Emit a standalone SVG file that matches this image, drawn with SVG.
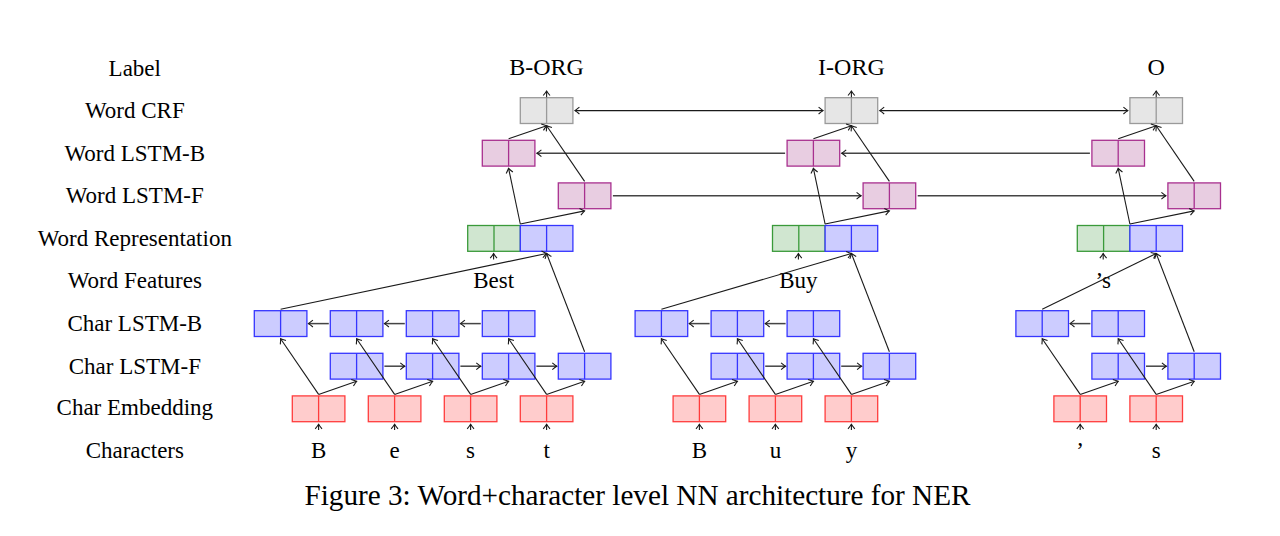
<svg xmlns="http://www.w3.org/2000/svg" xmlns:xlink="http://www.w3.org/1999/xlink" width="1280" height="536" viewBox="0 0 1280 536">
<style>
  text { font-family: "Liberation Serif", "Times New Roman", serif; fill: #000; }
  .lbl { font-size: 23px; text-anchor: middle; }
  .tag { font-size: 24px; text-anchor: middle; }
  .cap { font-size: 29.2px; text-anchor: middle; }
  .box { stroke-width: 1.3; }
  .crf { fill: #e6e6e6; stroke: #9a9a9a; }
  .wl { fill: #e8cde1; stroke: #a8308f; }
  .grn { fill: #d0e6d0; stroke: #3a9a3a; }
  .blu { fill: #ccccff; stroke: #3535ff; }
  .red { fill: #ffcccc; stroke: #ff3c3c; }
  .c { fill: none; stroke: #1a1a1a; stroke-width: 1.1; marker-end: url(#ah); }
  .h { fill: none; stroke: #444; stroke-width: 1.5; marker-end: url(#ah); }
  .hc { fill: none; stroke: #1a1a1a; stroke-width: 1.1; marker-start: url(#ah); marker-end: url(#ah); }
</style>
<defs>
  <marker id="ah" markerUnits="userSpaceOnUse" viewBox="-6 -5 8 10" markerWidth="8" markerHeight="10" refX="0" refY="0" orient="auto-start-reverse">
    <path d="M-4.5,-3.4 Q-1.6,-1 0,0 Q-1.6,1 -4.5,3.4" fill="none" stroke="#1a1a1a" stroke-width="1.1"/>
  </marker>
  <g id="b2">
    <rect x="0" y="0" width="52.6" height="25.8"/>
    <line x1="26.3" y1="0" x2="26.3" y2="25.8"/>
  </g>
</defs>

<g id="row-labels">
  <text class="lbl" x="134.8" y="75.5">Label</text>
  <text class="lbl" x="134.8" y="118.2">Word CRF</text>
  <text class="lbl" x="134.8" y="160.8">Word LSTM-B</text>
  <text class="lbl" x="134.8" y="203.4">Word LSTM-F</text>
  <text class="lbl" x="134.8" y="245.8">Word Representation</text>
  <text class="lbl" x="134.8" y="288.4">Word Features</text>
  <text class="lbl" x="134.8" y="331">Char LSTM-B</text>
  <text class="lbl" x="134.8" y="373.5">Char LSTM-F</text>
  <text class="lbl" x="134.8" y="415">Char Embedding</text>
  <text class="lbl" x="134.8" y="457.5">Characters</text>
</g>

<g id="tags">
  <text class="tag" x="546.6" y="75">B-ORG</text>
  <text class="tag" x="851.4" y="75">I-ORG</text>
  <text class="tag" x="1156.2" y="75">O</text>
</g>

<g id="words">
  <text class="lbl" x="493.6" y="287.5">Best</text>
  <text class="lbl" x="798.4" y="287.5">Buy</text>
  <text class="lbl" x="1103.2" y="287.5">’s</text>
</g>

<g id="chars">
  <text class="lbl" x="318.6" y="457.5">B</text>
  <text class="lbl" x="394.6" y="457.5">e</text>
  <text class="lbl" x="470.6" y="457.5">s</text>
  <text class="lbl" x="546.6" y="457.5">t</text>
  <text class="lbl" x="699.4" y="457.5">B</text>
  <text class="lbl" x="775.4" y="457.5">u</text>
  <text class="lbl" x="851.4" y="457.5">y</text>
  <text class="lbl" x="1080.2" y="457.5">’</text>
  <text class="lbl" x="1156.2" y="457.5">s</text>
</g>

<!-- Section 1: Best -->
<g id="crf1" class="box crf"><use xlink:href="#b2" x="520.3" y="97.7"/></g>
<g id="wlb1" class="box wl"><use xlink:href="#b2" x="482.3" y="140.3"/></g>
<g id="wlf1" class="box wl"><use xlink:href="#b2" x="558.3" y="182.9"/></g>
<g id="wr1"><g class="box grn"><use xlink:href="#b2" x="467.7" y="225.5"/></g><g class="box blu"><use xlink:href="#b2" x="520.3" y="225.5"/></g></g>
<g id="clb1a" class="box blu"><use xlink:href="#b2" x="254.3" y="310.7"/></g>
<g id="clb1b" class="box blu"><use xlink:href="#b2" x="330.3" y="310.7"/></g>
<g id="clb1c" class="box blu"><use xlink:href="#b2" x="406.3" y="310.7"/></g>
<g id="clb1d" class="box blu"><use xlink:href="#b2" x="482.3" y="310.7"/></g>
<g id="clf1a" class="box blu"><use xlink:href="#b2" x="330.3" y="353.3"/></g>
<g id="clf1b" class="box blu"><use xlink:href="#b2" x="406.3" y="353.3"/></g>
<g id="clf1c" class="box blu"><use xlink:href="#b2" x="482.3" y="353.3"/></g>
<g id="clf1d" class="box blu"><use xlink:href="#b2" x="558.3" y="353.3"/></g>
<g id="ce1a" class="box red"><use xlink:href="#b2" x="292.3" y="395.9"/></g>
<g id="ce1b" class="box red"><use xlink:href="#b2" x="368.3" y="395.9"/></g>
<g id="ce1c" class="box red"><use xlink:href="#b2" x="444.3" y="395.9"/></g>
<g id="ce1d" class="box red"><use xlink:href="#b2" x="520.3" y="395.9"/></g>

<!-- Section 2: Buy -->
<g id="crf2" class="box crf"><use xlink:href="#b2" x="825.1" y="97.7"/></g>
<g id="wlb2" class="box wl"><use xlink:href="#b2" x="787.1" y="140.3"/></g>
<g id="wlf2" class="box wl"><use xlink:href="#b2" x="863.1" y="182.9"/></g>
<g id="wr2"><g class="box grn"><use xlink:href="#b2" x="772.5" y="225.5"/></g><g class="box blu"><use xlink:href="#b2" x="825.1" y="225.5"/></g></g>
<g id="clb2a" class="box blu"><use xlink:href="#b2" x="635.1" y="310.7"/></g>
<g id="clb2b" class="box blu"><use xlink:href="#b2" x="711.1" y="310.7"/></g>
<g id="clb2c" class="box blu"><use xlink:href="#b2" x="787.1" y="310.7"/></g>
<g id="clf2a" class="box blu"><use xlink:href="#b2" x="711.1" y="353.3"/></g>
<g id="clf2b" class="box blu"><use xlink:href="#b2" x="787.1" y="353.3"/></g>
<g id="clf2c" class="box blu"><use xlink:href="#b2" x="863.1" y="353.3"/></g>
<g id="ce2a" class="box red"><use xlink:href="#b2" x="673.1" y="395.9"/></g>
<g id="ce2b" class="box red"><use xlink:href="#b2" x="749.1" y="395.9"/></g>
<g id="ce2c" class="box red"><use xlink:href="#b2" x="825.1" y="395.9"/></g>

<!-- Section 3: 's -->
<g id="crf3" class="box crf"><use xlink:href="#b2" x="1129.9" y="97.7"/></g>
<g id="wlb3" class="box wl"><use xlink:href="#b2" x="1091.9" y="140.3"/></g>
<g id="wlf3" class="box wl"><use xlink:href="#b2" x="1167.9" y="182.9"/></g>
<g id="wr3"><g class="box grn"><use xlink:href="#b2" x="1077.3" y="225.5"/></g><g class="box blu"><use xlink:href="#b2" x="1129.9" y="225.5"/></g></g>
<g id="clb3a" class="box blu"><use xlink:href="#b2" x="1015.9" y="310.7"/></g>
<g id="clb3b" class="box blu"><use xlink:href="#b2" x="1091.9" y="310.7"/></g>
<g id="clf3a" class="box blu"><use xlink:href="#b2" x="1091.9" y="353.3"/></g>
<g id="clf3b" class="box blu"><use xlink:href="#b2" x="1167.9" y="353.3"/></g>
<g id="ce3a" class="box red"><use xlink:href="#b2" x="1053.9" y="395.9"/></g>
<g id="ce3b" class="box red"><use xlink:href="#b2" x="1129.9" y="395.9"/></g>

<g id="connectors">
  <!-- CRF chain -->
  <path class="hc" d="M574.9,110.6 L823.1,110.6"/>
  <path class="hc" d="M879.7,110.6 L1127.9,110.6"/>
  <!-- word LSTM-B chain -->
  <path class="h" d="M785.1,153.2 L536.9,153.2"/>
  <path class="h" d="M1089.9,153.2 L841.7,153.2"/>
  <!-- word LSTM-F chain -->
  <path class="h" d="M612.9,195.8 L861.1,195.8"/>
  <path class="h" d="M917.7,195.8 L1165.9,195.8"/>

  <!-- label arrows -->
  <path class="c" d="M546.6,97.2 L546.6,91"/>
  <path class="c" d="M851.4,97.2 L851.4,91"/>
  <path class="c" d="M1156.2,97.2 L1156.2,91"/>

  <!-- word level -->
  <path class="c" d="M520.3,224 L508.6,168.3"/>
  <path class="c" d="M520.3,224 L584.6,210.9"/>
  <path class="c" d="M508.6,138.8 L546.6,125.7"/>
  <path class="c" d="M584.6,181.4 L546.6,125.7"/>
  <path class="c" d="M825.1,224 L813.4,168.3"/>
  <path class="c" d="M825.1,224 L889.4,210.9"/>
  <path class="c" d="M813.4,138.8 L851.4,125.7"/>
  <path class="c" d="M889.4,181.4 L851.4,125.7"/>
  <path class="c" d="M1129.9,224 L1118.2,168.3"/>
  <path class="c" d="M1129.9,224 L1194.2,210.9"/>
  <path class="c" d="M1118.2,138.8 L1156.2,125.7"/>
  <path class="c" d="M1194.2,181.4 L1156.2,125.7"/>

  <!-- word features -->
  <path class="c" d="M493.6,259.5 L493.6,253.6"/>
  <path class="c" d="M798.4,259.5 L798.4,253.6"/>
  <path class="c" d="M1103.2,259.5 L1103.2,253.6"/>

  <!-- char LSTM to word rep -->
  <path class="c" d="M280.6,309.2 L546.6,253.5"/>
  <path class="c" d="M584.6,351.8 L546.6,253.5"/>
  <path class="c" d="M661.4,309.2 L851.4,253.5"/>
  <path class="c" d="M889.4,351.8 L851.4,253.5"/>
  <path class="c" d="M1042.2,309.2 L1156.2,253.5"/>
  <path class="c" d="M1194.2,351.8 L1156.2,253.5"/>

  <!-- char LSTM-B chain -->
  <path class="h" d="M328.8,323.6 L308.4,323.6"/>
  <path class="h" d="M404.8,323.6 L384.4,323.6"/>
  <path class="h" d="M480.8,323.6 L460.4,323.6"/>
  <path class="h" d="M709.6,323.6 L689.2,323.6"/>
  <path class="h" d="M785.6,323.6 L765.2,323.6"/>
  <path class="h" d="M1090.4,323.6 L1070,323.6"/>
  <!-- char LSTM-F chain -->
  <path class="h" d="M384.4,366.2 L404.8,366.2"/>
  <path class="h" d="M460.4,366.2 L480.8,366.2"/>
  <path class="h" d="M536.4,366.2 L556.8,366.2"/>
  <path class="h" d="M765.2,366.2 L785.6,366.2"/>
  <path class="h" d="M841.2,366.2 L861.6,366.2"/>
  <path class="h" d="M1146,366.2 L1166.4,366.2"/>

  <!-- char embedding to char LSTMs -->
  <path class="c" d="M318.6,394.4 L280.6,338.7"/>
  <path class="c" d="M318.6,394.4 L356.6,381.3"/>
  <path class="c" d="M394.6,394.4 L356.6,338.7"/>
  <path class="c" d="M394.6,394.4 L432.6,381.3"/>
  <path class="c" d="M470.6,394.4 L432.6,338.7"/>
  <path class="c" d="M470.6,394.4 L508.6,381.3"/>
  <path class="c" d="M546.6,394.4 L508.6,338.7"/>
  <path class="c" d="M546.6,394.4 L584.6,381.3"/>
  <path class="c" d="M699.4,394.4 L661.4,338.7"/>
  <path class="c" d="M699.4,394.4 L737.4,381.3"/>
  <path class="c" d="M775.4,394.4 L737.4,338.7"/>
  <path class="c" d="M775.4,394.4 L813.4,381.3"/>
  <path class="c" d="M851.4,394.4 L813.4,338.7"/>
  <path class="c" d="M851.4,394.4 L889.4,381.3"/>
  <path class="c" d="M1080.2,394.4 L1042.2,338.7"/>
  <path class="c" d="M1080.2,394.4 L1118.2,381.3"/>
  <path class="c" d="M1156.2,394.4 L1118.2,338.7"/>
  <path class="c" d="M1156.2,394.4 L1194.2,381.3"/>

  <!-- characters to embeddings -->
  <path class="c" d="M318.6,430 L318.6,424.3"/>
  <path class="c" d="M394.6,430 L394.6,424.3"/>
  <path class="c" d="M470.6,430 L470.6,424.3"/>
  <path class="c" d="M546.6,430 L546.6,424.3"/>
  <path class="c" d="M699.4,430 L699.4,424.3"/>
  <path class="c" d="M775.4,430 L775.4,424.3"/>
  <path class="c" d="M851.4,430 L851.4,424.3"/>
  <path class="c" d="M1080.2,430 L1080.2,424.3"/>
  <path class="c" d="M1156.2,430 L1156.2,424.3"/>
</g>

<text class="cap" x="637.5" y="505">Figure 3: Word+character level NN architecture for NER</text>
</svg>
